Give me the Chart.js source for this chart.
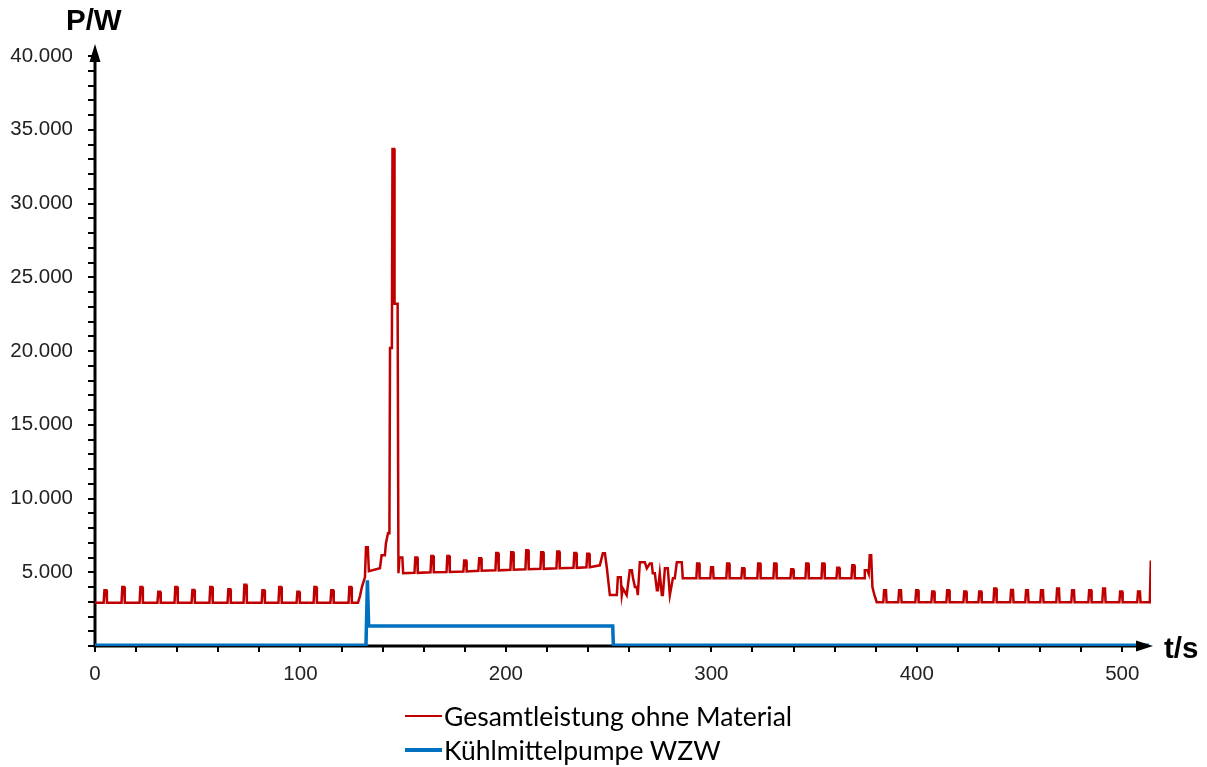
<!DOCTYPE html>
<html lang="de">
<head>
<meta charset="utf-8">
<title>Leistungsverlauf</title>
<script src="https://cdn.jsdelivr.net/npm/chart.js@4.4.1/dist/chart.umd.min.js"></script>
<style>
  html, body { margin: 0; padding: 0; background: #fff; overflow: hidden; }
  #wrap { position: relative; width: 1207px; height: 767px; }
  #legend { position: absolute; left: 405px; top: 699px; font-family: Lato, "Noto Sans", sans-serif; font-size: 26.5px; color: #000; }
  .row { display: flex; align-items: center; height: 34px; }
  .swatch { display: inline-block; width: 37px; margin-right: 2px; }
</style>
</head>
<body>
<div id="wrap">
  <canvas id="c" width="1207" height="767"></canvas>
  <div id="legend"></div>
</div>
<script>
// Series names
const seriesNames = ["Gesamtleistung ohne Material", "Kühlmittelpumpe WZW"];
const seriesColors = ["#C00000", "#0070C0"];

// Axis ranges and tick labels
const tMax = 514;
const xLabelTicks = [0, 100, 200, 300, 400, 500];
const yLabelTicks = [5000, 10000, 15000, 20000, 25000, 30000, 35000, 40000];

// Gesamtleistung [t in s, P in W] — idle phase with periodic pulses
const idlePhase1 = [
  [0,2930],
  [4.2,2930],[4.6,3780],[5.5,3780],[5.8,2930],
  [12.9,2930],[13.3,4000],[14.2,4000],[14.5,2930],
  [21.7,2930],[22.1,4000],[23.0,4000],[23.3,2930],
  [30.4,2930],[30.8,3670],[31.7,3670],[32.0,2930],
  [38.7,2930],[39.1,4000],[40.0,4000],[40.3,2930],
  [47.0,2930],[47.4,3800],[48.3,3800],[48.6,2930],
  [55.7,2930],[56.1,4000],[57.0,4000],[57.3,2930],
  [64.5,2930],[64.9,3850],[65.8,3850],[66.1,2930],
  [72.3,2930],[72.7,4150],[73.6,4150],[73.9,2930],
  [81.1,2930],[81.5,3780],[82.4,3780],[82.7,2930],
  [89.3,2930],[89.7,4000],[90.6,4000],[90.9,2930],
  [98.1,2930],[98.5,3670],[99.4,3670],[99.7,2930],
  [106.4,2930],[106.8,4000],[107.7,4000],[108.0,2930],
  [114.6,2930],[115.0,3780],[115.9,3780],[116.2,2930],
  [123.4,2930],[123.8,4000],[124.7,4000],[125.0,2930]
];

// Start-up with the power peak
const startupPhase = [
  [128.0,2930],[129.0,3400],[129.9,4000],[131.4,4660],[131.9,6700],[132.8,6700],
  [133.3,5070],[138.7,5270],[139.5,6150],[141.1,6150],[141.6,6950],[142.6,7640],
  [143.3,7640],[143.6,20200],[144.5,20200],[144.8,33700],[145.6,33700],
  [145.8,23200],[147.3,23200],[147.7,4930]
];

// Machining with coolant pump running
const machiningPhase = [
  [148.2,6000],[149.6,6000],[150.0,4930],
  [155.5,4960],[155.9,6000],[156.8,6000],[157.1,4960],
  [163.3,5000],[163.7,6100],[164.6,6100],[164.9,5000],
  [171.1,5020],[171.5,6100],[172.4,6100],[172.7,5020],
  [179.3,5050],[179.7,5800],[180.6,5800],[180.9,5050],
  [186.6,5100],[187.0,5950],[187.9,5950],[188.2,5100],
  [194.9,5130],[195.3,6300],[196.2,6300],[196.5,5130],
  [202.2,5170],[202.6,6350],[203.5,6350],[203.8,5170],
  [209.5,5200],[209.9,6500],[210.8,6500],[211.1,5200],
  [216.8,5230],[217.2,6350],[218.1,6350],[218.4,5230],
  [224.6,5270],[225.0,6400],[225.9,6400],[226.2,5270],
  [232.9,5300],[233.3,6300],[234.2,6300],[234.5,5300],
  [239.2,5340],[239.6,6250],[240.5,6250],[240.8,5340],
  [245.7,5470],[247.2,6280],[248.2,6280],[249.1,5340]
];

// Transition after pump switch-off
const transitionPhase = [
  [250.6,3450],[254.0,3450],[254.5,4660],[255.9,4660],[256.4,3450],[256.9,3900],
  [258.8,3450],[260.3,5130],[261.3,5130],[261.8,4660],[262.8,4000],[263.7,4000],
  [264.2,3450],[265.2,5680],[267.6,5680],[268.6,5270],[270.1,5600],[271.0,5600],
  [271.5,4930],[272.5,4930],[273.5,3780],[274.0,3780],[274.9,4930],[275.9,3450],
  [276.4,3450],[277.4,5270],[278.8,5270],[279.8,3450],[281.3,4600],[282.2,4600],
  [283.2,5680],[285.6,5680],[286.1,4600]
];

// Second working phase
const workPhase2 = [
  [292.7,4600],[293.1,5600],[294.0,5600],[294.3,4600],
  [299.5,4600],[299.9,5340],[300.8,5340],[301.1,4600],
  [307.3,4600],[307.7,5600],[308.6,5600],[308.9,4600],
  [314.6,4600],[315.0,5270],[315.9,5270],[316.2,4600],
  [322.4,4600],[322.8,5600],[323.7,5600],[324.0,4600],
  [330.2,4600],[330.6,5600],[331.5,5600],[331.8,4600],
  [338.5,4600],[338.9,5200],[339.8,5200],[340.1,4600],
  [345.8,4600],[346.2,5600],[347.1,5600],[347.4,4600],
  [353.6,4600],[354.0,5600],[354.9,5600],[355.2,4600],
  [360.9,4600],[361.3,5300],[362.2,5300],[362.5,4600],
  [368.2,4600],[368.6,5470],[369.5,5470],[369.8,4600],
  [374.4,4600],[374.7,5130],[376.0,5130],[376.6,4900],[377.1,6150],[377.8,6150],
  [378.4,4000],[379.4,3450],[380.5,2970]
];

// Idle phase at the end
const idlePhase2 = [
  [383.7,2970],[384.1,3780],[385.0,3780],[385.3,2970],
  [391.0,2970],[391.4,3780],[392.3,3780],[392.6,2970],
  [399.3,2970],[399.7,3780],[400.6,3780],[400.9,2970],
  [407.1,2970],[407.5,3700],[408.4,3700],[408.7,2970],
  [414.4,2970],[414.8,3780],[415.7,3780],[416.0,2970],
  [422.7,2970],[423.1,3700],[424.0,3700],[424.3,2970],
  [430.0,2970],[430.4,3700],[431.3,3700],[431.6,2970],
  [437.3,2970],[437.7,3900],[438.6,3900],[438.9,2970],
  [445.5,2970],[445.9,3800],[446.8,3800],[447.1,2970],
  [452.8,2970],[453.2,3780],[454.1,3780],[454.4,2970],
  [460.1,2970],[460.5,3780],[461.4,3780],[461.7,2970],
  [467.9,2970],[468.3,3900],[469.2,3900],[469.5,2970],
  [475.2,2970],[475.6,3780],[476.5,3780],[476.8,2970],
  [483.5,2970],[483.9,3780],[484.8,3780],[485.1,2970],
  [490.3,2970],[490.7,3900],[491.6,3900],[491.9,2970],
  [498.6,2970],[499.0,3700],[499.9,3700],[500.2,2970],
  [507.3,2970],[507.7,3700],[508.6,3700],[508.9,2970],
  [513.4,2970],[513.9,5800]
];

// Kühlmittelpumpe WZW [t in s, P in W]
const pumpPower = [
  [0,50],[131.9,50],[132.6,4460],[133.2,1350],[252.0,1350],[252.3,50],[513,50]
];

const totalPower = [].concat(idlePhase1, startupPhase, machiningPhase, transitionPhase, workPhase2, idlePhase2);
const toPoints = arr => arr.map(([t, p]) => ({ x: t, y: p }));

const fmtDE = v => v.toLocaleString('de-DE');
const tickFont = { family: '"Liberation Sans", Arial, sans-serif', size: 20.5 };

// Axis lines, minor ticks, arrow heads and the unit labels
const axisPlugin = {
  id: 'axisArrows',
  beforeDatasetsDraw(chart) {
    const { ctx, scales: { x, y } } = chart;
    const x0 = x.getPixelForValue(0);
    const y0 = y.getPixelForValue(0);
    const yTop = y.getPixelForValue(40000);
    const xEnd = x.getPixelForValue(tMax);
    ctx.save();
    ctx.strokeStyle = '#000';
    ctx.lineWidth = 3;
    ctx.beginPath();
    ctx.moveTo(x0, y0 + 1.5);
    ctx.lineTo(x0, yTop - 4);
    ctx.moveTo(x0 - 1.5, y0);
    ctx.lineTo(xEnd - 8, y0);
    ctx.stroke();
    ctx.lineWidth = 2;
    ctx.beginPath();
    for (let v = 0; v <= 40000; v += 1000) {
      const py = Math.round(y.getPixelForValue(v));
      ctx.moveTo(x0 - 7, py);
      ctx.lineTo(x0, py);
    }
    for (let t = 0; t <= 500; t += 20) {
      const px = Math.round(x.getPixelForValue(t));
      ctx.moveTo(px, y0);
      ctx.lineTo(px, y0 + 6);
    }
    ctx.stroke();
    ctx.restore();
  },
  afterDatasetsDraw(chart) {
    const { ctx, scales: { x, y } } = chart;
    const x0 = x.getPixelForValue(0);
    const y0 = y.getPixelForValue(0);
    const yTop = y.getPixelForValue(40000);
    const xEnd = x.getPixelForValue(tMax);
    ctx.save();
    ctx.fillStyle = '#000';
    ctx.beginPath();
    ctx.moveTo(x0, yTop - 12);
    ctx.lineTo(x0 - 5.5, yTop + 6);
    ctx.lineTo(x0 + 5.5, yTop + 6);
    ctx.closePath();
    ctx.fill();
    ctx.beginPath();
    ctx.moveTo(xEnd + 2, y0);
    ctx.lineTo(xEnd - 15, y0 - 5.5);
    ctx.lineTo(xEnd - 15, y0 + 5.5);
    ctx.closePath();
    ctx.fill();
    ctx.restore();
  },
  afterDraw(chart) {
    const { ctx, scales: { x, y } } = chart;
    ctx.save();
    ctx.fillStyle = '#000';
    ctx.font = 'bold 29.5px "Liberation Sans", Arial, sans-serif';
    ctx.textBaseline = 'middle';
    ctx.textAlign = 'left';
    ctx.fillText('P/W', 66, 22);
    ctx.fillText('t/s', x.getPixelForValue(tMax) + 13, y.getPixelForValue(0) + 4);
    ctx.restore();
  }
};

new Chart(document.getElementById('c'), {
  type: 'line',
  data: {
    datasets: [
      { label: seriesNames[0], data: toPoints(totalPower), borderColor: seriesColors[0], borderWidth: 2.5 },
      { label: seriesNames[1], data: toPoints(pumpPower), borderColor: seriesColors[1], borderWidth: 3.5 }
    ]
  },
  options: {
    responsive: false,
    animation: false,
    devicePixelRatio: 1,
    elements: { point: { radius: 0 }, line: { tension: 0, borderJoinStyle: 'miter', borderCapStyle: 'butt' } },
    layout: { padding: { top: 56, right: 56, left: 0, bottom: 0 } },
    plugins: { legend: { display: false }, tooltip: { enabled: false } },
    scales: {
      x: {
        type: 'linear', min: 0, max: tMax,
        grid: { display: false }, border: { display: false },
        afterBuildTicks: s => { s.ticks = xLabelTicks.map(v => ({ value: v })); },
        afterFit: s => { s.height = 767 - 646; },
        ticks: { padding: 8, color: '#222', font: tickFont, callback: v => fmtDE(v) }
      },
      y: {
        type: 'linear', min: 0, max: 40000,
        grid: { display: false }, border: { display: false },
        afterBuildTicks: s => { s.ticks = yLabelTicks.map(v => ({ value: v })); },
        afterFit: s => { s.width = 95; },
        ticks: { padding: 14, color: '#222', font: tickFont, callback: v => fmtDE(v) }
      }
    }
  },
  plugins: [axisPlugin]
});

// Legend below the plot
const legend = document.getElementById('legend');
seriesNames.forEach((name, i) => {
  const row = document.createElement('div');
  row.className = 'row';
  const sw = document.createElement('span');
  sw.className = 'swatch';
  sw.style.borderTop = (i === 0 ? 2 : 4) + 'px solid ' + seriesColors[i];
  const label = document.createElement('span');
  label.textContent = name;
  row.appendChild(sw);
  row.appendChild(label);
  legend.appendChild(row);
});
</script>
</body>
</html>
